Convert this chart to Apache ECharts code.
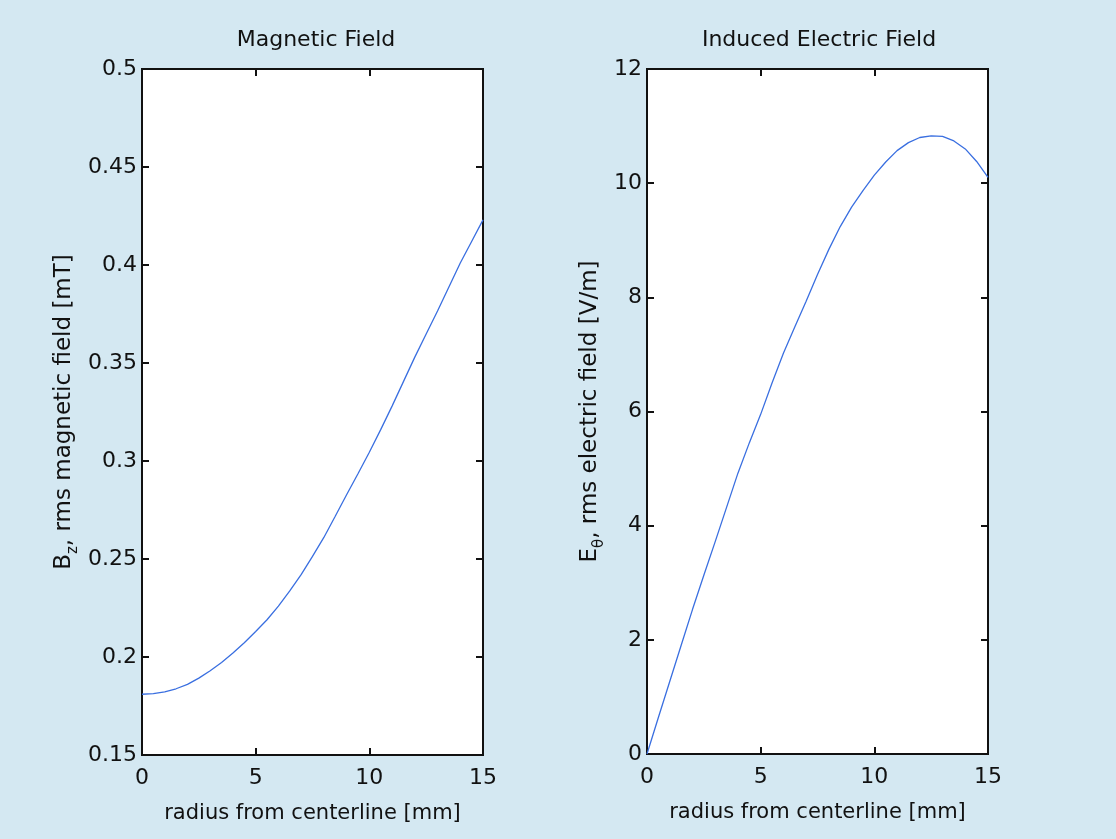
<!DOCTYPE html>
<html>
<head>
<meta charset="utf-8">
<script src="https://cdn.jsdelivr.net/npm/echarts@6/dist/echarts.min.js"></script>
<style>
html,body{margin:0;padding:0;background:#d4e8f2;}
#c{width:1116px;height:839px;}
</style>
</head>
<body>
<div id="c"></div>
<script>
// Radius from centerline [mm]
const radius = [0,0.5,1,1.5,2,2.5,3,3.5,4,4.5,5,5.5,6,6.5,7,7.5,8,8.5,9,9.5,10,10.5,11,11.5,12,12.5,13,13.5,14,14.5,15];
// Magnetic field B_z [mT]
const bField = [0.181,0.1813,0.1822,0.1838,0.186,0.1892,0.193,0.1972,0.202,0.2073,0.213,0.219,0.226,0.2337,0.242,0.2513,0.261,0.2718,0.2828,0.2935,0.3045,0.316,0.328,0.3405,0.353,0.3648,0.3765,0.3888,0.401,0.412,0.423];
// Induced electric field E_theta [V/m]
const eField = [0,0.64,1.27,1.9,2.53,3.13,3.72,4.32,4.92,5.45,5.95,6.5,7.02,7.48,7.93,8.4,8.84,9.24,9.58,9.87,10.14,10.37,10.57,10.71,10.8,10.83,10.82,10.74,10.6,10.38,10.1];
const xTicks = {min:0, max:15, interval:5};
const bTicks = {min:0.15, max:0.5, interval:0.05};
const eTicks = {min:0, max:12, interval:2};
const titles = ['Magnetic Field','Induced Electric Field'];
const xName = 'radius from centerline [mm]';

const FONT = 'DejaVu Sans';
const TXT = '#111';
const chart = echarts.init(document.getElementById('c'));

function pairs(xs, ys){ return xs.map((x,i)=>[x, ys[i]]); }

const grids = [
  {left:142, top:69, width:341, height:686},
  {left:647, top:69, width:341, height:685}
];
const gridCommon = {show:true, backgroundColor:'#ffffff', borderColor:'#111', borderWidth:2, containLabel:false};

function xAx(gi, main){
  return {
    type:'value', gridIndex:gi, position: main?'bottom':'top',
    min:xTicks.min, max:xTicks.max, interval:xTicks.interval,
    axisLine:{show:true, onZero:false, lineStyle:{color:'#111', width:2}},
    axisTick:{show:true, inside:true, length:7, lineStyle:{color:'#111', width:2}},
    axisLabel:{show:main, color:TXT, fontFamily:FONT, fontSize:22, margin:12},
    splitLine:{show:false},
    name: main? xName : '', nameLocation:'middle', nameGap:48,
    nameTextStyle:{color:TXT, fontFamily:FONT, fontSize:21}
  };
}
function yAx(gi, main, t, name, gap){
  return {
    type:'value', gridIndex:gi, position: main?'left':'right',
    min:t.min, max:t.max, interval:t.interval,
    axisLine:{show:true, onZero:false, lineStyle:{color:'#111', width:2}},
    axisTick:{show:true, inside:true, length:7, lineStyle:{color:'#111', width:2}},
    axisLabel:{show:main, color:TXT, fontFamily:FONT, fontSize:22, margin:5},
    splitLine:{show:false},
    name: main? name : '', nameLocation:'middle', nameRotate:90, nameGap:gap,
    nameTextStyle:{color:TXT, fontFamily:FONT, fontSize:23,
      rich:{
        m:{fontFamily:FONT, fontSize:23, color:TXT, lineHeight:34, verticalAlign:'middle'},
        s:{fontFamily:FONT, fontSize:15, color:TXT, lineHeight:16, verticalAlign:'bottom'}
      }}
  };
}

const option = {
  backgroundColor:'#d4e8f2',
  animation:false,
  title:[
    {text:titles[0], left:311, top:24, textAlign:'center', textStyle:{fontFamily:FONT, fontSize:22, fontWeight:'normal', color:TXT}},
    {text:titles[1], left:814, top:24, textAlign:'center', textStyle:{fontFamily:FONT, fontSize:22, fontWeight:'normal', color:TXT}}
  ],
  grid: grids.map(g=>Object.assign({}, gridCommon, g)),
  xAxis:[xAx(0,true), xAx(0,false), xAx(1,true), xAx(1,false)],
  yAxis:[
    yAx(0,true,bTicks,'{m|B}{s|z}{m|, rms magnetic field [mT]}',61),
    yAx(0,false,bTicks,'',0),
    yAx(1,true,eTicks,'{m|E}{s|θ}{m|, rms electric field [V/m]}',40),
    yAx(1,false,eTicks,'',0)
  ],
  series:[
    {type:'line', xAxisIndex:0, yAxisIndex:0, data:pairs(radius,bField), showSymbol:false, symbol:'none', lineStyle:{color:'#3a6fe0', width:1.3}, z:5},
    {type:'line', xAxisIndex:2, yAxisIndex:2, data:pairs(radius,eField), showSymbol:false, symbol:'none', lineStyle:{color:'#3a6fe0', width:1.3}, z:5}
  ]
};
chart.setOption(option);
</script>
</body>
</html>
